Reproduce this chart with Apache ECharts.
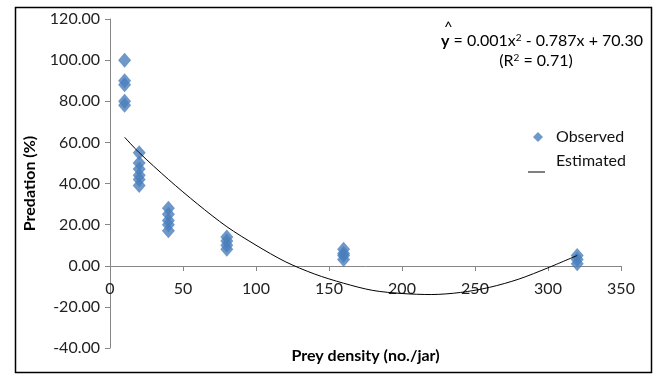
<!DOCTYPE html>
<html><head><meta charset="utf-8">
<script src="https://cdn.jsdelivr.net/npm/echarts@6/dist/echarts.min.js"></script>
<style>html,body{margin:0;padding:0;background:#fff}#c{width:664px;height:377px}</style>
</head><body><div id="c"></div>
<script>
// Observed points (prey density, predation %)
const obsX = [10,10,10,10,10, 20,20,20,20,20,20, 40,40,40,40,40, 80,80,80,80, 160,160,160,160, 320,320,320];
const obsY = [100,90,88,80,78, 55,50,47,44,42,39, 28,25,22,20,17, 14,12,10,8, 8,6,5,3, 5,3,1];
// Estimated curve
const estX = [10,20,40,60,80,100,120,140,160,180,200,220,240,260,280,300,320];
const estY = [62.5,55,42,30,19,10,2,-4,-8.5,-12,-13.5,-14,-13,-10.5,-6.5,-1,5];
const seriesNames = ['Observed','Estimated'];
const xAxisTitle = 'Prey density (no./jar)';
const yAxisTitle = 'Predation (%)';

const FONT = 'Lato';
const chart = echarts.init(document.getElementById('c'), null, {renderer:'canvas'});
chart.setOption({
  animation:false,
  backgroundColor:'#fff',
  textStyle:{fontFamily:FONT},
  grid:{left:110,right:43,top:19,bottom:29,containLabel:false,outerBoundsMode:'none'},
  legend:{
    orient:'vertical', left:528, top:124, itemGap:8, itemWidth:10, itemHeight:10,
    textStyle:{fontFamily:FONT,fontSize:16,color:'#111',padding:[0,0,0,8]},
    data:[{name:seriesNames[0],icon:'diamond'},{name:seriesNames[1],icon:'rect',itemStyle:{opacity:0}}]
  },
  xAxis:{
    type:'value', min:0, max:350, interval:50, position:'bottom', offset:-82,
    name:xAxisTitle, nameLocation:'middle', nameGap:82,
    nameTextStyle:{fontFamily:FONT,fontSize:16,fontWeight:'bold',color:'#000'},
    axisLine:{onZero:false,lineStyle:{color:'#868686'}},
    axisTick:{show:true,length:5,lineStyle:{color:'#868686'}},
    axisLabel:{fontFamily:FONT,fontSize:16,color:'#222',margin:15},
    splitLine:{show:false}
  },
  yAxis:{
    type:'value', min:-40, max:120, interval:20,
    name:yAxisTitle, nameLocation:'middle', nameGap:72,
    nameTextStyle:{fontFamily:FONT,fontSize:16,fontWeight:'bold',color:'#000'},
    axisLine:{show:true,onZero:false,lineStyle:{color:'#868686'}},
    axisTick:{show:true,length:5,lineStyle:{color:'#868686'}},
    axisLabel:{fontFamily:FONT,fontSize:16,color:'#222',margin:10,formatter:v=>v.toFixed(2)},
    splitLine:{show:false}
  },
  series:[
    {name:seriesNames[0],type:'scatter',symbol:'diamond',symbolSize:[13,15],
     itemStyle:{color:'#4a7ebb'},data:obsX.map((x,i)=>[x,obsY[i]]),z:3},
    {name:seriesNames[1],type:'line',smooth:0.3,showSymbol:false,symbol:'none',
     lineStyle:{color:'#000',width:1},itemStyle:{color:'#000'},
     data:estX.map((x,i)=>[x,estY[i]]),z:4}
  ],
  graphic:[
    {type:'rect',shape:{x:15.5,y:7.5,width:636,height:365},style:{fill:'none',stroke:'#000',lineWidth:1.5},silent:true},
    {type:'line',shape:{x1:528,y1:172,x2:545,y2:172},style:{stroke:'#000',lineWidth:1}},
    {type:'text',x:444,y:20,style:{text:'^',font:'15px '+FONT,fill:'#000'}},
    {type:'text',x:441,y:33,style:{
      text:'{b|y} = 0.001x{s|2} - 0.787x + 70.30',
      font:'16px '+FONT, fill:'#000',
      rich:{b:{fontFamily:FONT,fontSize:16,fontWeight:'bold',fill:'#000'},s:{fontFamily:FONT,fontSize:10,verticalAlign:'top',padding:[0,0,6,0]}}
    }},
    {type:'text',x:536,y:61,style:{
      text:'(R{s|2} = 0.71)', font:'16px '+FONT, fill:'#000', align:'center', verticalAlign:'middle',
      rich:{s:{fontFamily:FONT,fontSize:10,padding:[0,0,6,0]}}
    }}
  ]
});
</script></body></html>
